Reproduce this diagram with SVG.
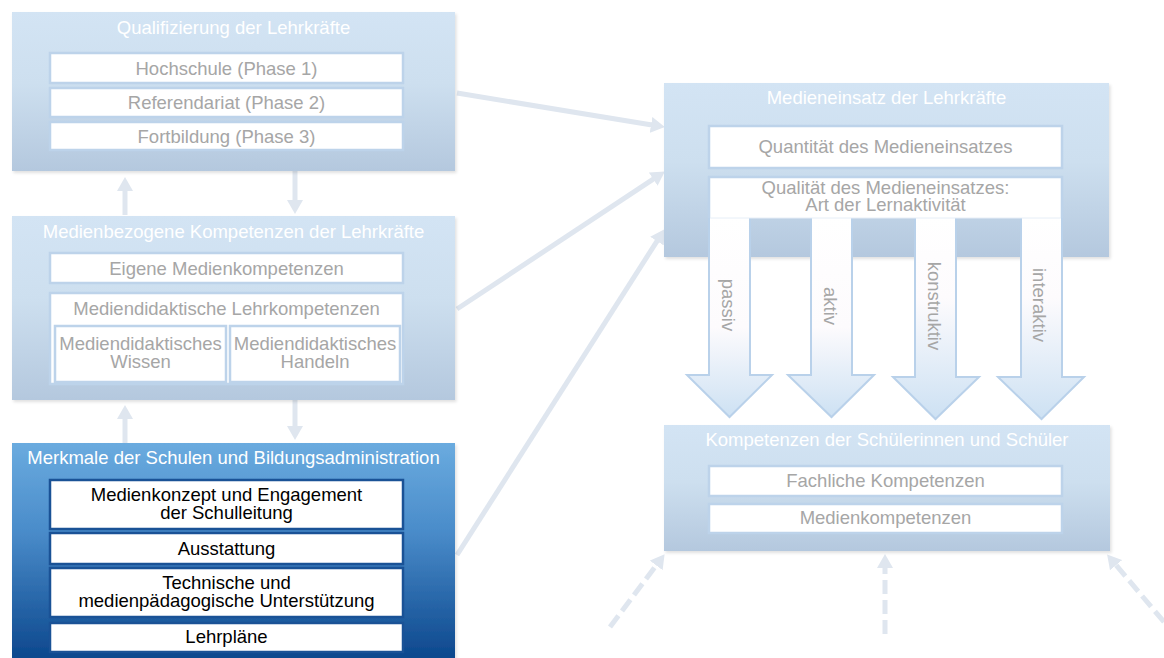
<svg xmlns="http://www.w3.org/2000/svg" width="1164" height="658" viewBox="0 0 1164 658">
  <defs>
    <linearGradient id="gFade" x1="0" y1="0" x2="0" y2="1">
      <stop offset="0" stop-color="#d3e4f4"/>
      <stop offset="0.45" stop-color="#cddfef"/>
      <stop offset="1" stop-color="#b4c8de"/>
    </linearGradient>
    <linearGradient id="gDark" x1="0" y1="0" x2="0" y2="1">
      <stop offset="0" stop-color="#6aabdf"/>
      <stop offset="0.4" stop-color="#4a8cca"/>
      <stop offset="1" stop-color="#0a458b"/>
    </linearGradient>
    <linearGradient id="gArrow" x1="0" y1="0" x2="0" y2="1">
      <stop offset="0" stop-color="#ffffff"/>
      <stop offset="0.55" stop-color="#fdfbfd"/>
      <stop offset="1" stop-color="#cde1f3"/>
    </linearGradient>
    <linearGradient id="gArrow2" x1="0" y1="0" x2="0" y2="1">
      <stop offset="0" stop-color="#ffffff"/>
      <stop offset="0.4" stop-color="#fdfbfd"/>
      <stop offset="1" stop-color="#cde1f3"/>
    </linearGradient>
    <filter id="shadow" x="-5%" y="-5%" width="110%" height="115%">
      <feDropShadow dx="1.5" dy="2" stdDeviation="1.5" flood-color="#000000" flood-opacity="0.12"/>
    </filter>
    <marker id="head" markerUnits="userSpaceOnUse" markerWidth="14" markerHeight="16" viewBox="0 0 14 16" refX="1" refY="8" orient="auto">
      <path d="M0,0 L14,8 L0,16 z" fill="#dfe6ef"/>
    </marker>
    <style>
      .t { font-family: "Liberation Sans", Arial, sans-serif; font-size: 18.5px; text-anchor: middle; }
      .title { fill: #ffffff; }
      .gray { fill: #a6a6a6; }
      .blk { fill: #000000; }
      .fadeBox { fill: url(#gFade); filter: url(#shadow); }
      .inFade { fill: #ffffff; stroke: #bdd3ea; stroke-width: 2.5; }
      .inDark { fill: #ffffff; stroke: #1a5296; stroke-width: 2.5; }
      .conn { fill: none; stroke: #dfe6ef; stroke-width: 5; marker-end: url(#head); }
      .dash { stroke-dasharray: 14 6; }
      .blockArrow { stroke: #b9d1ea; stroke-width: 2; }
    </style>
  </defs>

  <rect x="0" y="0" width="1164" height="658" fill="#ffffff"/>

  <g id="connectors">
    <line class="conn" x1="125" y1="215" x2="125" y2="190"/>
    <line class="conn" x1="295" y1="171" x2="295" y2="201"/>
    <line class="conn" x1="125" y1="443" x2="125" y2="418"/>
    <line class="conn" x1="295" y1="400" x2="295" y2="427"/>
    <line class="conn" x1="457" y1="93" x2="652" y2="125"/>
    <line class="conn" x1="457" y1="309" x2="654" y2="178.6"/>
    <line class="conn" x1="457" y1="555" x2="657.5" y2="240.3"/>
    <line class="conn dash" x1="610" y1="627" x2="656.8" y2="564.6"/>
    <line class="conn dash" x1="885" y1="634" x2="885" y2="567"/>
    <line class="conn dash" x1="1164" y1="622" x2="1115.5" y2="564.4"/>
  </g>

  <g id="qualifizierung">
    <rect class="fadeBox" x="12" y="12" width="443" height="159"/>
    <text class="t title" x="233.5" y="33.5">Qualifizierung der Lehrkräfte</text>
    <rect class="inFade" x="50" y="53" width="353" height="30"/>
    <text class="t gray" x="226.5" y="74.5">Hochschule (Phase 1)</text>
    <rect class="inFade" x="50" y="88" width="353" height="29"/>
    <text class="t gray" x="226.5" y="109">Referendariat (Phase 2)</text>
    <rect class="inFade" x="50" y="122" width="353" height="28"/>
    <text class="t gray" x="226.5" y="142.5">Fortbildung (Phase 3)</text>
  </g>

  <g id="kompetenzen-lehrkraefte">
    <rect class="fadeBox" x="12" y="216" width="443" height="184"/>
    <text class="t title" x="233.5" y="237.5">Medienbezogene Kompetenzen der Lehrkräfte</text>
    <rect class="inFade" x="50" y="253" width="353" height="30"/>
    <text class="t gray" x="226.5" y="274.5">Eigene Medienkompetenzen</text>
    <rect class="inFade" x="50" y="293" width="353" height="91"/>
    <text class="t gray" x="226.5" y="314.5">Mediendidaktische Lehrkompetenzen</text>
    <rect class="inFade" x="55" y="326" width="171" height="56"/>
    <text class="t gray" x="140.5" y="349.5">Mediendidaktisches</text>
    <text class="t gray" x="140.5" y="367.5">Wissen</text>
    <rect class="inFade" x="230" y="326" width="170" height="56"/>
    <text class="t gray" x="315" y="349.5">Mediendidaktisches</text>
    <text class="t gray" x="315" y="367.5">Handeln</text>
  </g>

  <g id="merkmale-schulen">
    <rect x="12" y="443" width="443" height="220" fill="url(#gDark)" filter="url(#shadow)"/>
    <text class="t title" x="233.5" y="463.5">Merkmale der Schulen und Bildungsadministration</text>
    <rect class="inDark" x="50" y="480" width="353" height="49"/>
    <text class="t blk" x="226.5" y="500.5">Medienkonzept und Engagement</text>
    <text class="t blk" x="226.5" y="518.5">der Schulleitung</text>
    <rect class="inDark" x="50" y="533" width="353" height="31"/>
    <text class="t blk" x="226.5" y="554.5">Ausstattung</text>
    <rect class="inDark" x="50" y="568" width="353" height="49"/>
    <text class="t blk" x="226.5" y="588.5">Technische und</text>
    <text class="t blk" x="226.5" y="606.5">medienpädagogische Unterstützung</text>
    <rect class="inDark" x="50" y="623" width="353" height="29"/>
    <text class="t blk" x="226.5" y="642.5">Lehrpläne</text>
  </g>

  <g id="medieneinsatz">
    <rect class="fadeBox" x="664" y="83" width="445" height="174"/>
    <text class="t title" x="886.5" y="103.5">Medieneinsatz der Lehrkräfte</text>
    <rect class="inFade" x="709" y="126" width="353" height="42"/>
    <text class="t gray" x="885.5" y="152.5">Quantität des Medieneinsatzes</text>
  </g>

  <g id="lernaktivitaet-pfeile">
    <path class="blockArrow" fill="url(#gArrow)" d="M709,217 L750,217 L750,375 L772,375 L729.5,417 L687,375 L709,375 z"/>
    <path class="blockArrow" fill="url(#gArrow)" d="M811,217 L852,217 L852,375 L874,375 L831.5,417 L788,375 L811,375 z"/>
    <path class="blockArrow" fill="url(#gArrow2)" d="M915,217 L956,217 L956,377 L979,377 L935.5,419 L893,377 L915,377 z"/>
    <path class="blockArrow" fill="url(#gArrow2)" d="M1021,217 L1062,217 L1062,377 L1084,377 L1041.5,419 L998,377 L1021,377 z"/>
    <text class="t gray" transform="translate(727,305) rotate(90)" x="0" y="5">passiv</text>
    <text class="t gray" transform="translate(829,306) rotate(90)" x="0" y="5">aktiv</text>
    <text class="t gray" transform="translate(933,306) rotate(90)" x="0" y="5">konstruktiv</text>
    <text class="t gray" transform="translate(1038,305) rotate(90)" x="0" y="5">interaktiv</text>
  </g>

  <g id="qualitaet">
    <path d="M709,218 L709,177 L1062,177 L1062,218" fill="#ffffff" stroke="#bdd3ea" stroke-width="2.5"/>
    <line x1="710" y1="218" x2="1061" y2="218" stroke="#e6eef7" stroke-width="1"/>
    <text class="t gray" x="885.5" y="193.5">Qualität des Medieneinsatzes:</text>
    <text class="t gray" x="885.5" y="210.5">Art der Lernaktivität</text>
  </g>

  <g id="kompetenzen-schueler">
    <rect class="fadeBox" x="664" y="425" width="446" height="126"/>
    <text class="t title" x="887" y="445.5">Kompetenzen der Schülerinnen und Schüler</text>
    <rect class="inFade" x="709" y="466" width="353" height="30"/>
    <text class="t gray" x="885.5" y="486.5">Fachliche Kompetenzen</text>
    <rect class="inFade" x="709" y="504" width="353" height="29"/>
    <text class="t gray" x="885.5" y="523.5">Medienkompetenzen</text>
  </g>
</svg>
